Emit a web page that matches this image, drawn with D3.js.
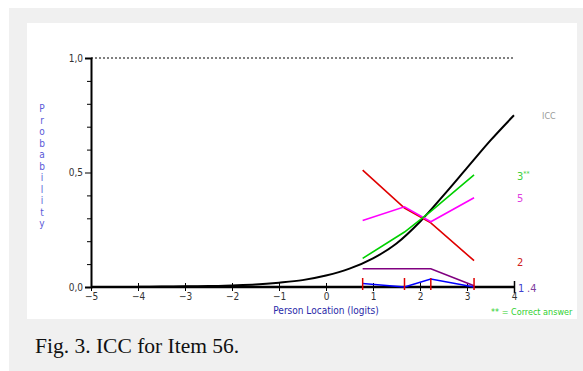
<!DOCTYPE html>
<html><head><meta charset="utf-8">
<script src="https://cdn.jsdelivr.net/npm/d3@7"></script>
<style>body{margin:0;background:#fff}svg{display:block}</style>
</head><body>
<script>
// ---- data ----
const xTicks = [-5,-4,-3,-2,-1,0,1,2,3,4];
const yMajor = [0, 0.5, 1.0];
const yMajorLabels = ["0,0","0,5","1,0"];
const yMinor = [0.1,0.2,0.3,0.4,0.6,0.7,0.8,0.9];
const iccX = [-4,-3.5,-3,-2.5,-2,-1.5,-1,-0.5,0,0.5,1,1.5,2,2.5,3,3.5,4];
const iccY = [0.001,0.002,0.003,0.004,0.007,0.011,0.019,0.03,0.05,0.08,0.125,0.19,0.285,0.40,0.52,0.64,0.75];
const classX = [0.78,1.67,2.23,3.15];
const cat1 = [0.015,0.0,0.035,0.0];
const cat2 = [0.51,0.345,0.28,0.115];
const cat3 = [0.125,0.24,0.33,0.49];
const cat4 = [0.08,0.08,0.08,0.005];
const cat5 = [0.29,0.35,0.285,0.39];
const seriesNames = ["1","2","3","4","5"];

const W=583,H=371;
const svg=d3.select("body").append("svg").attr("width",W).attr("height",H);
svg.append("rect").attr("x",9).attr("y",8).attr("width",W-9).attr("height",H-8).attr("fill","#f0f0f0");
svg.append("rect").attr("x",27).attr("y",23).attr("width",550).attr("height",296).attr("fill","#fff");

const x=d3.scaleLinear().domain([-5,4]).range([91,514]);
const y=d3.scaleLinear().domain([0,1]).range([287,58]);
const font="'Liberation Sans Narrow','DejaVu Sans Condensed','Liberation Sans',sans-serif";

// dotted line at 1.0
svg.append("line").attr("x1",x(-5)).attr("x2",x(4)).attr("y1",y(1)).attr("y2",y(1))
  .attr("stroke","#000").attr("stroke-width",1).attr("stroke-dasharray","2,2");

// y axis
const yAxis=d3.axisLeft(y).tickValues(yMajor).tickFormat((d,i)=>yMajorLabels[i]).tickSize(6).tickPadding(2);
const gy=svg.append("g").attr("transform",`translate(${x(-5)},0)`).call(yAxis);
gy.select(".domain").attr("stroke-width",2);
gy.selectAll(".tick line").attr("stroke-width",1);
gy.selectAll("text").attr("font-family",font).attr("font-size",10).attr("fill","#333");
const gym=svg.append("g").attr("transform",`translate(${x(-5)},0)`).call(d3.axisLeft(y).tickValues(yMinor).tickFormat("").tickSize(4));
gym.select(".domain").remove();

// x axis
const xAxis=d3.axisBottom(x).tickValues(xTicks).tickFormat(d3.format("d")).tickSize(4).tickPadding(2);
const gx=svg.append("g").attr("transform",`translate(0,${y(0)})`).call(xAxis);
gx.select(".domain").attr("stroke-width",2.5).attr("d",`M${x(-5)},0H${x(4)}`);
gx.selectAll(".tick line").attr("y1",-4).attr("stroke-width",1);
gx.selectAll("text").attr("font-family",font).attr("font-size",10).attr("fill","#333");
gx.selectAll(".tick").filter(d=>d===4).select("line").attr("y1",-6).attr("y2",6).attr("stroke-width",1.5);

// ICC curve
const line=d3.line().x(d=>x(d[0])).y(d=>y(d[1]));
svg.append("path").datum(iccX.map((v,i)=>[v,iccY[i]])).attr("d",line.curve(d3.curveMonotoneX))
  .attr("fill","none").attr("stroke","#000").attr("stroke-width",2);

// category lines
const lineL=d3.line().x(d=>x(d[0])).y(d=>y(d[1]));
const cats=[[cat4,"#800080"],[cat1,"#0000ff"],[cat2,"#e00000"],[cat5,"#ff00ff"],[cat3,"#00d000"]];
cats.forEach(([vals,col])=>{
  svg.append("path").datum(classX.map((v,i)=>[v,vals[i]])).attr("d",lineL)
    .attr("fill","none").attr("stroke",col).attr("stroke-width",1.6);
});

// red class interval ticks
svg.selectAll(".ci").data(classX).enter().append("line")
  .attr("x1",d=>x(d)).attr("x2",d=>x(d)).attr("y1",y(0)-9).attr("y2",y(0)+3)
  .attr("stroke","#e00000").attr("stroke-width",1.5);

// axis titles
const ylab="Probability".split("");
svg.append("g").selectAll("text").data(ylab).enter().append("text")
  .attr("x",42).attr("y",(d,i)=>112+i*11.5).attr("text-anchor","middle")
  .attr("font-family",font).attr("font-size",10).attr("fill","#5a5ad8").text(d=>d);
svg.append("text").attr("x",x(0)).attr("y",314).attr("text-anchor","middle")
  .attr("font-family",font).attr("font-size",10).attr("fill","#2828a8").text("Person Location (logits)");

// right-side labels
const lab=(tx,ty,t,c,fs)=>svg.append("text").attr("x",tx).attr("y",ty).attr("font-family",font)
  .attr("font-size",fs||11).attr("fill",c).text(t);
lab(542,119,"ICC","#999",9);
const t3=lab(517,180,seriesNames[2],"#40d040");
t3.append("tspan").attr("dy",-4).attr("font-size",7).text("**");
lab(517,202,seriesNames[4],"#e040e0");
lab(517,266,seriesNames[1],"#d02020");
lab(518,292,seriesNames[0],"#4040d0");
lab(527,292,"."+seriesNames[3],"#8040a0");
lab(491,315,"** = Correct answer","#30d030",9);

// caption
svg.append("text").attr("x",35).attr("y",353).attr("font-family","'Liberation Serif','Times New Roman',serif")
  .attr("font-size",21.5).attr("fill","#111").text("Fig. 3. ICC for Item 56.");
</script>
</body></html>
